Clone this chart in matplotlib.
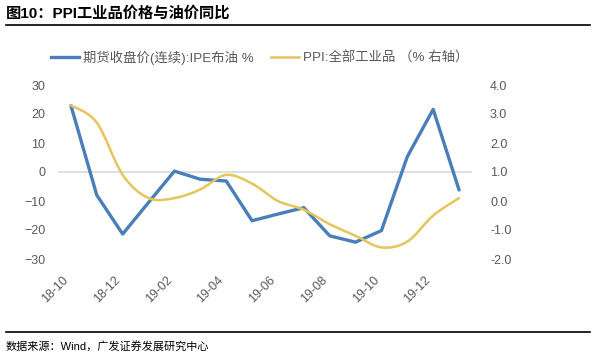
import numpy as np
import matplotlib
matplotlib.use("Agg")
import matplotlib.pyplot as plt
from matplotlib.path import Path
from matplotlib.patches import PathPatch
from matplotlib.lines import Line2D

plt.rcParams['font.family'] = ['Liberation Sans', 'Noto Sans CJK SC', 'DejaVu Sans']

months = ['18-10', '18-11', '18-12', '19-01', '19-02', '19-03', '19-04', '19-05',
          '19-06', '19-07', '19-08', '19-09', '19-10', '19-11', '19-12', '20-01']
# IPE Brent, continuous futures, YoY %
brent = [22.9, -8.0, -21.4, -10.5, 0.3, -2.5, -3.1, -16.8,
         -14.5, -12.3, -22.0, -24.2, -20.2, 5.3, 21.6, -6.2]
# PPI all industrial products, YoY % (right axis)
ppi = [3.3, 2.7, 0.9, 0.1, 0.1, 0.4, 0.9, 0.6,
       0.0, -0.3, -0.8, -1.2, -1.6, -1.4, -0.5, 0.1]

blue = '#4a7ebb'
yellow = '#e6c55c'
gray_txt = '#595959'

fig = plt.figure(figsize=(5.94, 3.59), dpi=100)
ax = fig.add_axes([58 / 594, 100 / 359, 414 / 594, 174 / 359])
ax2 = ax.twinx()

x = np.arange(len(months))
ax.axhline(0, color='#d9d9d9', linewidth=1.2, zorder=1)
ax.plot(x, brent, color=blue, linewidth=2.4, zorder=3, solid_capstyle='round')


def smooth_path(xs, ys):
    # Excel-style smoothed line: Catmull-Rom as cubic Bezier segments
    pts = np.column_stack([xs, ys]).astype(float)
    verts = [pts[0]]
    codes = [Path.MOVETO]
    n = len(pts)
    for i in range(n - 1):
        p0 = pts[i - 1] if i > 0 else pts[i]
        p1 = pts[i]
        p2 = pts[i + 1]
        p3 = pts[i + 2] if i + 2 < n else pts[i + 1]
        c1 = p1 + (p2 - p0) / 6.0
        c2 = p2 - (p3 - p1) / 6.0
        verts += [c1, c2, p2]
        codes += [Path.CURVE4] * 3
    return Path(verts, codes)


ax2.add_patch(PathPatch(smooth_path(x, ppi), facecolor='none', edgecolor=yellow,
                        linewidth=1.8, zorder=2, capstyle='round'))

ax.set_xlim(-0.5, len(months) - 0.5)
ax.set_ylim(-30, 30)
ax2.set_ylim(-2, 4)
ax.set_yticks(range(-30, 31, 10))
ax2.set_yticks(np.arange(-2, 4.1, 1))
ax2.set_yticklabels(['%.1f' % v for v in np.arange(-2, 4.1, 1)])
ax.set_xticks(x[::2])
ax.set_xticklabels(months[::2], rotation=45, ha='right', va='top')

for a in (ax, ax2):
    for s in a.spines.values():
        s.set_visible(False)
    a.tick_params(length=0, labelsize=9, labelcolor=gray_txt)
ax.tick_params(axis='y', pad=9)
ax.tick_params(axis='x', pad=11)
ax2.tick_params(axis='y', pad=13)

handles = [Line2D([], [], color=blue, linewidth=2.4),
           Line2D([], [], color=yellow, linewidth=1.8)]
fig.legend(handles, ['期货收盘价(连续):IPE布油 %', 'PPI:全部工业品 （% 右轴）'],
           loc='center', bbox_to_anchor=(260 / 594, 1 - 58 / 359), ncol=2,
           frameon=False, fontsize=9.6, labelcolor=gray_txt, handlelength=2.1,
           handletextpad=0.3, columnspacing=1.3)

fig.text(6 / 594, 1 - 13 / 359, '图10：PPI工业品价格与油价同比', fontsize=11,
         fontweight='bold', va='center', ha='left')
fig.add_artist(Line2D([6 / 594, 590 / 594], [1 - 25 / 359, 1 - 25 / 359],
                      color='black', linewidth=1.2))
fig.add_artist(Line2D([6 / 594, 590 / 594], [1 - 332 / 359, 1 - 332 / 359],
                      color='black', linewidth=1.2))
fig.text(6 / 594, 1 - 346 / 359, '数据来源：Wind，广发证券发展研究中心', fontsize=8,
         va='center', ha='left')

fig.savefig('out.png', dpi=100)
